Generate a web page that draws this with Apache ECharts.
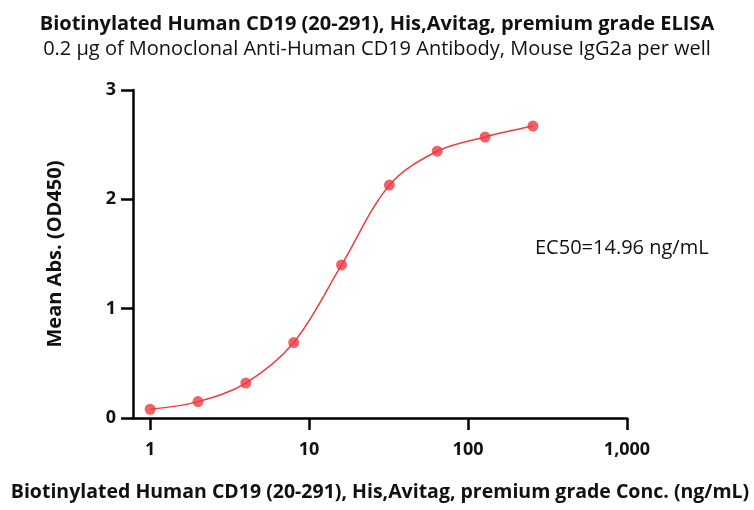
<!DOCTYPE html>
<html>
<head>
<meta charset="utf-8">
<script src="https://cdn.jsdelivr.net/npm/echarts@6/dist/echarts.min.js"></script>
<style>html,body{margin:0;padding:0;background:#fff;}#c{width:754px;height:510px;}</style>
</head>
<body>
<div id="c"></div>
<script>
var concentrations = [1, 2, 4, 8, 16, 32, 64, 128, 256];
var absorbance = [0.08, 0.15, 0.32, 0.69, 1.40, 2.13, 2.44, 2.57, 2.67];
var xTicks = [1, 10, 100, 1000];
var yTicks = [0, 1, 2, 3];
var titleText = 'Biotinylated Human CD19 (20-291), His,Avitag, premium grade ELISA';
var subtitleText = '0.2 \u03bcg of Monoclonal Anti-Human CD19 Antibody, Mouse IgG2a per well';
var xName = 'Biotinylated Human CD19 (20-291), His,Avitag, premium grade Conc. (ng/mL)';
var yName = 'Mean Abs. (OD450)';
var ec50Text = 'EC50=14.96 ng/mL';

var pts = concentrations.map(function (c, i) { return [c, absorbance[i]]; });
var red = '#f03a40';
var font = '"Open Sans", "Noto Sans", sans-serif';
var chart = echarts.init(document.getElementById('c'), null, {renderer: 'canvas'});
chart.setOption({
  animation: false,
  title: [
    {text: titleText, left: 'center', top: 9, textStyle: {fontFamily: font, fontSize: 20, fontWeight: 'bold', color: '#111'}},
    {text: subtitleText, left: 'center', top: 34, textStyle: {fontFamily: font, fontSize: 20, fontWeight: 'normal', color: '#111'}}
  ],
  grid: {left: 133, top: 90, right: 127, bottom: 92},
  xAxis: {
    type: 'log', logBase: 10, min: 0.78, max: 1000,
    name: xName, nameLocation: 'middle', nameGap: 64,
    nameTextStyle: {fontFamily: font, fontSize: 19.5, fontWeight: 'bold', color: '#111'},
    axisLine: {lineStyle: {color: '#000', width: 2.5}},
    axisTick: {length: 12, lineStyle: {color: '#000', width: 2.5}, customValues: xTicks},
    axisLabel: {fontFamily: font, fontSize: 18, fontWeight: 'bold', color: '#111', margin: 23,
      customValues: xTicks,
      formatter: function (v) { return Math.round(v).toLocaleString('en-US'); }},
    splitLine: {show: false}, minorTick: {show: false}
  },
  yAxis: {
    type: 'value', min: 0, max: 3, interval: 1,
    name: yName, nameLocation: 'middle', nameGap: 68,
    nameTextStyle: {fontFamily: font, fontSize: 20, fontWeight: 'bold', color: '#111'},
    axisLine: {show: true, lineStyle: {color: '#000', width: 2.5}},
    axisTick: {show: true, length: 12, lineStyle: {color: '#000', width: 2.5}},
    axisLabel: {fontFamily: font, fontSize: 18, fontWeight: 'bold', color: '#111', margin: 17},
    splitLine: {show: false}
  },
  series: [
    {type: 'line', data: pts, smooth: 0.35, showSymbol: false, lineStyle: {color: red, width: 1.5}, z: 2},
    {type: 'scatter', data: pts, symbol: 'circle', symbolSize: 11, itemStyle: {color: red}, z: 3}
  ],
  graphic: [
    {type: 'text', left: 535, top: 238, style: {text: ec50Text, fontFamily: font, fontSize: 20, fill: '#111'}}
  ]
});
</script>
</body>
</html>
